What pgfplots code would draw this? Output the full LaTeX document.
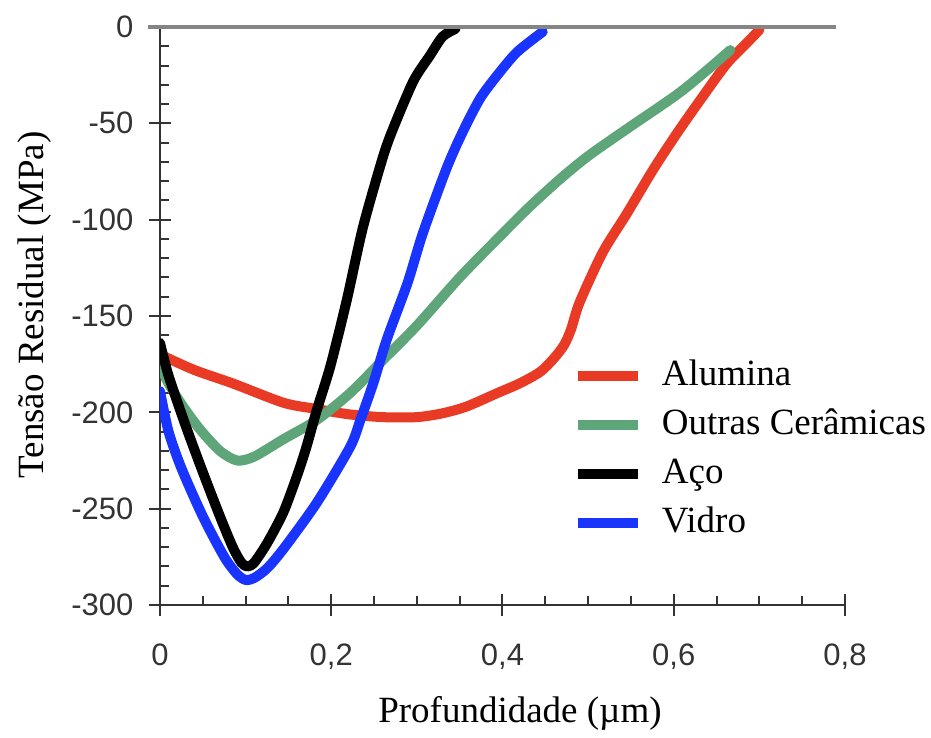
\documentclass[border=0pt]{standalone}
\usepackage{pgfplots}
\pgfplotsset{compat=1.18}
\usepackage{fontspec}
\setmainfont{Liberation Serif}
\newfontfamily\tickfont{Liberation Sans}
\definecolor{cRed}{HTML}{E83A24}
\definecolor{cGreen}{HTML}{5FA57A}
\definecolor{cBlue}{HTML}{1A34FF}
\definecolor{axgray}{HTML}{333333}
\definecolor{zgray}{HTML}{858585}

\begin{document}
\begin{tikzpicture}
\useasboundingbox (0,0) rectangle (465.5pt,369pt);
\begin{axis}[
  at={(80pt,66.5pt)}, anchor=south west,
  scale only axis, width=342.5pt, height=289pt,
  xmin=0, xmax=0.8, ymin=-300, ymax=0,
  axis lines*=left,
  axis line style={draw=axgray, line width=1pt},
  xtick={0,0.2,0.4,0.6,0.8},
  xticklabels={0,{0,2},{0,4},{0,6},{0,8}},
  ytick={-300,-250,-200,-150,-100,-50,0},
  yticklabels={-300,-250,-200,-150,-100,-50,0},
  minor x tick num=3, minor y tick num=4,
  tick align=center,
  major tick length=11pt, minor tick length=4.5pt,
  tick style={draw=axgray, line width=1pt},
  minor x tick style={yshift=2.25pt},
  minor y tick style={xshift=2.25pt},
  ticklabel style={font=\tickfont\fontsize{15.5}{18}\selectfont, text=axgray},
  xticklabel style={yshift=-10.5pt},
  yticklabel style={xshift=-4.3pt},
  xlabel={Profundidade (µm)},
  ylabel={Tensão Residual (MPa)},
  label style={font=\fontsize{18.5}{22}\selectfont},
  xlabel style={at={(axis description cs:0.5255,-0.204)}, anchor=base},
  ylabel style={at={(axis description cs:-0.1825,0.519)}, anchor=center},
  legend style={at={(axis description cs:0.6028,0.4256)}, anchor=north west,
    draw=none, fill=none, inner sep=0pt, outer sep=0pt,
    row sep=7.5pt, column sep=9.5pt,
    font=\fontsize{18.5}{22}\selectfont,
    nodes={inner sep=0pt, text height=13pt, text depth=4pt}},
  legend cell align=left,
  legend image code/.code={\draw[#1, line cap=butt] (0pt,0pt) -- (30pt,0pt);},
  every axis plot/.append style={line width=5pt, line cap=round, line join=round, smooth, tension=0.45},
]
\addplot[cRed] coordinates {
(0,-170) (0.04,-178) (0.085,-185) (0.144,-195) (0.179,-198) (0.22,-201)
(0.26,-202.5) (0.30,-202.5) (0.33,-200.5) (0.358,-197) (0.394,-190)
(0.42,-185) (0.444,-179) (0.46,-172) (0.472,-165) (0.48,-157) (0.49,-143)
(0.517,-117) (0.545,-97) (0.576,-74) (0.604,-55) (0.634,-36) (0.662,-19)
(0.686,-8) (0.70,-1.5)};
\addlegendentry{Alumina}
\addplot[cGreen] coordinates {
(0,-176) (0.01,-185) (0.027,-197) (0.047,-209) (0.07,-220) (0.09,-225)
(0.11,-223) (0.144,-214) (0.183,-204) (0.222,-190) (0.26,-173) (0.30,-155)
(0.35,-130) (0.394,-110) (0.43,-94) (0.467,-79) (0.5,-67) (0.545,-53)
(0.604,-35) (0.64,-22) (0.666,-12)};
\addlegendentry{Outras Cerâmicas}
\addplot[black] coordinates {
(0,-164) (0.01,-181) (0.03,-207) (0.05,-231) (0.07,-254) (0.085,-270)
(0.095,-278) (0.102,-280) (0.11,-278) (0.125,-268) (0.144,-252) (0.16,-233)
(0.171,-218) (0.183,-199) (0.199,-176) (0.218,-142) (0.237,-104) (0.26,-68)
(0.272,-53) (0.296,-28) (0.315,-15) (0.33,-5) (0.345,-1)};
\addlegendentry{Aço}
\addplot[cBlue] coordinates {
(0,-189) (0.01,-210) (0.025,-229) (0.05,-254) (0.075,-275) (0.09,-284)
(0.1,-287) (0.11,-286) (0.125,-281) (0.144,-271) (0.183,-247) (0.222,-218)
(0.234,-204) (0.249,-185) (0.265,-162) (0.289,-133) (0.307,-107) (0.335,-73)
(0.354,-54) (0.374,-37) (0.394,-25) (0.417,-13) (0.447,-2.5)};
\addlegendentry{Vidro}
\coordinate (g1) at (axis cs:-0.014,0);
\coordinate (g2) at (axis cs:0.789,0);
\end{axis}
\draw[zgray, line width=1.7pt] (g1) -- (g2);
\end{tikzpicture}
\end{document}
